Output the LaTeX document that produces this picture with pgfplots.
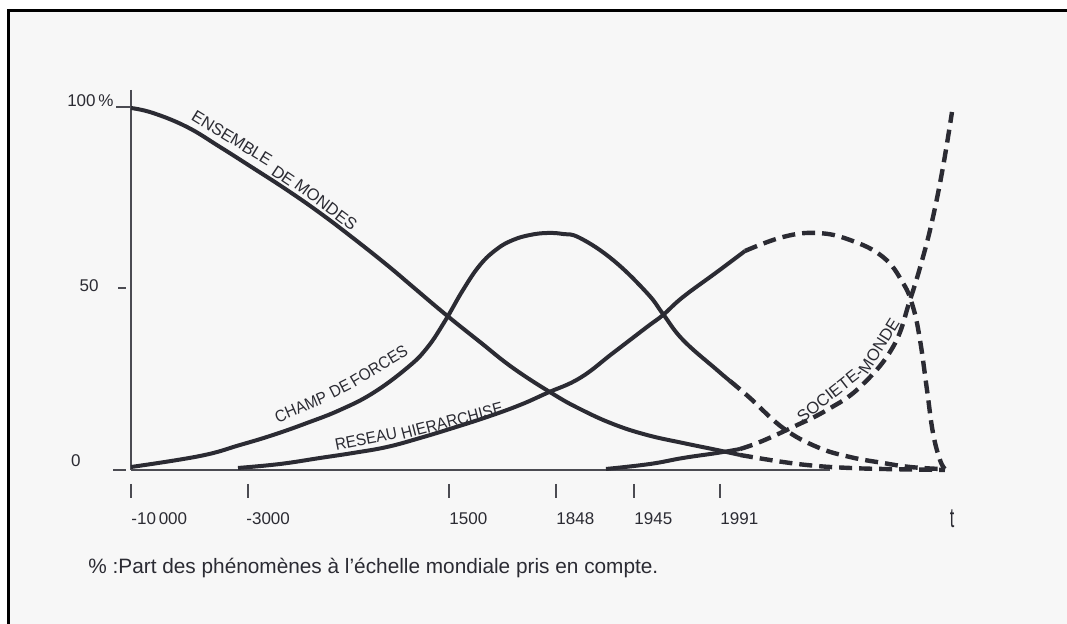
\documentclass[border=0pt]{standalone}
\usepackage{fontspec}
\setmainfont{Liberation Sans}
\usepackage{pgfplots}
\pgfplotsset{compat=1.18}
\definecolor{ink}{HTML}{2B2B33}
\definecolor{paper}{HTML}{F7F7F7}
\newcommand\labfont{\fontsize{8.3}{10}\selectfont}
\newcommand\tickfont{\fontsize{8.5}{10}\selectfont}
\newcommand\nar[1]{\scalebox{0.92}[1]{#1}}
\tikzset{lab/.style={font=\labfont, text=ink, inner sep=0pt, anchor=center}}
\begin{document}
\begin{tikzpicture}
\begin{axis}[
  scale only axis, width=533.5pt, height=312pt,
  xmin=0, xmax=1067, ymin=-42.82, ymax=129.56,
  axis lines=none, clip=false,
  every axis plot/.append style={color=ink, line cap=butt, line join=round, smooth, tension=0.7},
]
% background and frame
\fill[white] (axis cs:0,-42.82) rectangle (axis cs:1067,129.56);
\fill[paper] (axis cs:8.5,-42.82) rectangle (axis cs:1067,126.66);
\draw[black, line width=1.5pt] (axis cs:7.5,126.66) -- (axis cs:1067,126.66);
\draw[black, line width=1.5pt] (axis cs:8.5,127.1) -- (axis cs:8.5,-42.82);
% axes
\draw[ink!85, line width=0.6pt] (axis cs:131,104.7) -- (axis cs:131,-0.3);
\draw[ink!85, line width=0.6pt] (axis cs:131,-0.3) -- (axis cs:830,-0.3);
\draw[ink!85, line width=0.6pt] (axis cs:116,100) -- (axis cs:131,100);
\draw[ink!85, line width=0.6pt] (axis cs:118,50) -- (axis cs:126,50);
\draw[ink!85, line width=0.6pt] (axis cs:113,-0.3) -- (axis cs:126,-0.3);
\draw[ink!85, line width=0.7pt] (axis cs:131,-4.1) -- (axis cs:131,-8.0);
\draw[ink!85, line width=0.7pt] (axis cs:248,-4.1) -- (axis cs:248,-8.0);
\draw[ink!85, line width=0.7pt] (axis cs:449,-4.1) -- (axis cs:449,-8.0);
\draw[ink!85, line width=0.7pt] (axis cs:556,-4.1) -- (axis cs:556,-8.0);
\draw[ink!85, line width=0.7pt] (axis cs:634,-4.1) -- (axis cs:634,-8.0);
\draw[ink!85, line width=0.7pt] (axis cs:720,-4.1) -- (axis cs:720,-8.0);
% tick labels
\node[anchor=base east, inner sep=0pt, font=\tickfont, text=ink] at (axis cs:114,100) {100\,\%};
\node[anchor=base east, inner sep=0pt, font=\tickfont, text=ink] at (axis cs:99,48.9) {50};
\node[anchor=base east, inner sep=0pt, font=\tickfont, text=ink] at (axis cs:81,0.6) {0};
\node[anchor=base west, inner sep=0pt, font=\tickfont, text=ink] at (axis cs:131,-15.47) {-10\,000};
\node[anchor=base west, inner sep=0pt, font=\tickfont, text=ink] at (axis cs:246,-15.47) {-3000};
\node[anchor=base west, inner sep=0pt, font=\tickfont, text=ink] at (axis cs:449,-15.47) {1500};
\node[anchor=base west, inner sep=0pt, font=\tickfont, text=ink] at (axis cs:556,-15.47) {1848};
\node[anchor=base west, inner sep=0pt, font=\tickfont, text=ink] at (axis cs:634,-15.47) {1945};
\node[anchor=base west, inner sep=0pt, font=\tickfont, text=ink] at (axis cs:720,-15.47) {1991};
\node[anchor=base, inner sep=0pt, font=\fontsize{9.5}{10}\selectfont, text=ink] at (axis cs:952,-16.3) {\scalebox{0.85}[1.45]{t}};
% caption
\node[anchor=base west, inner sep=0pt, font=\fontsize{10.4}{12}\selectfont, text=ink] at (axis cs:88,-29.0) {\%\;:};
\node[anchor=base west, inner sep=0pt, font=\fontsize{10.4}{12}\selectfont, text=ink] at (axis cs:118,-29.0) {Part des phénomènes à l'échelle mondiale pris en compte.};

% ENSEMBLE DE MONDES
\addplot[line width=2pt] coordinates {(131,99.72) (153,98.34) (187,94.48) (220,88.95) (253,83.15) (287,77.07) (320,70.72) (353,63.81) (387,56.35) (413,50.28) (445,42.82) (480,35.08) (513,27.90) (553,20.72) (580,16.57) (613,12.43) (647,9.39) (683,7.18) (717,5.25) (740,3.87)};
\addplot[line width=2.2pt, dash pattern=on 6.5pt off 3.5pt] coordinates {(740,3.87) (783,1.93) (817,0.83) (850,0.28) (883,0.0) (945,-0.28)};
% CHAMP DE FORCES
\addplot[line width=2pt] coordinates {(131,0.55) (200,3.59) (240,6.63) (273,9.39) (307,12.71) (340,16.30) (373,20.99) (407,27.90) (427,33.43) (445,40.88) (463,49.45) (480,56.35) (497,60.77) (513,63.26) (530,64.64) (547,65.19) (563,64.92) (580,63.81) (613,57.73) (647,48.62) (663,42.82) (683,35.64) (717,27.35) (730,24.31)};
\addplot[line width=2.2pt, dash pattern=on 6.5pt off 3.5pt] coordinates {(730,24.31) (750,19.61) (783,11.33) (817,6.08) (850,3.31) (883,1.66) (910,0.55) (940,0.0)};
% RESEAU HIERARCHISE
\addplot[line width=2pt] coordinates {(238,0.28) (280,1.38) (320,3.04) (353,4.42) (387,6.08) (420,8.56) (453,11.33) (487,14.36) (520,17.68) (547,20.99) (580,25.14) (613,32.04) (647,39.23) (663,42.54) (683,47.51) (717,54.42) (745,60.22)};
\addplot[line width=2.2pt, dash pattern=on 6.5pt off 3.5pt] coordinates {(745,60.22) (783,64.09) (817,65.19) (850,63.26) (883,58.56) (903,51.38) (913,44.75) (920,35.64) (927,21.82) (933,9.94) (940,2.49) (945,0.0)};
% SOCIETE-MONDE
\addplot[line width=2pt] coordinates {(606,0.0) (650,1.38) (683,3.04) (717,4.42) (740,5.52)};
\addplot[line width=2.2pt, dash pattern=on 6.5pt off 3.5pt] coordinates {(740,5.52) (760,7.46) (793,11.60) (827,16.30) (860,22.65) (893,33.70) (910,46.69) (923,58.56) (933,69.61) (943,83.43) (952,98.62)};

% curve labels
\node[lab, rotate=-31.5] at (axis cs:232,91.44) {ENSEMBLE};
\node[lab, rotate=-34] at (axis cs:283,80.94) {DE};
\node[lab, rotate=-37] at (axis cs:326,72.93) {MONDES};
\node[lab, rotate=23] at (axis cs:301,17.13) {\nar{CHAMP}};
\node[lab, rotate=27] at (axis cs:340,22.10) {\nar{DE}};
\node[lab, rotate=31] at (axis cs:379,28.45) {\nar{FORCES}};
\node[lab, rotate=11] at (axis cs:366,8.29) {\nar{RESEAU}};
\node[lab, rotate=14.5] at (axis cs:452,13.26) {\nar{HIERARCHISE}};
\node[lab, rotate=38] at (axis cs:830,20.60) {SOCIETE-};
\node[lab, rotate=58] at (axis cs:879,33.87) {MONDE};
\end{axis}
\pgfresetboundingbox
\path (0,0) rectangle (533.5pt,312pt);
\end{tikzpicture}
\end{document}
